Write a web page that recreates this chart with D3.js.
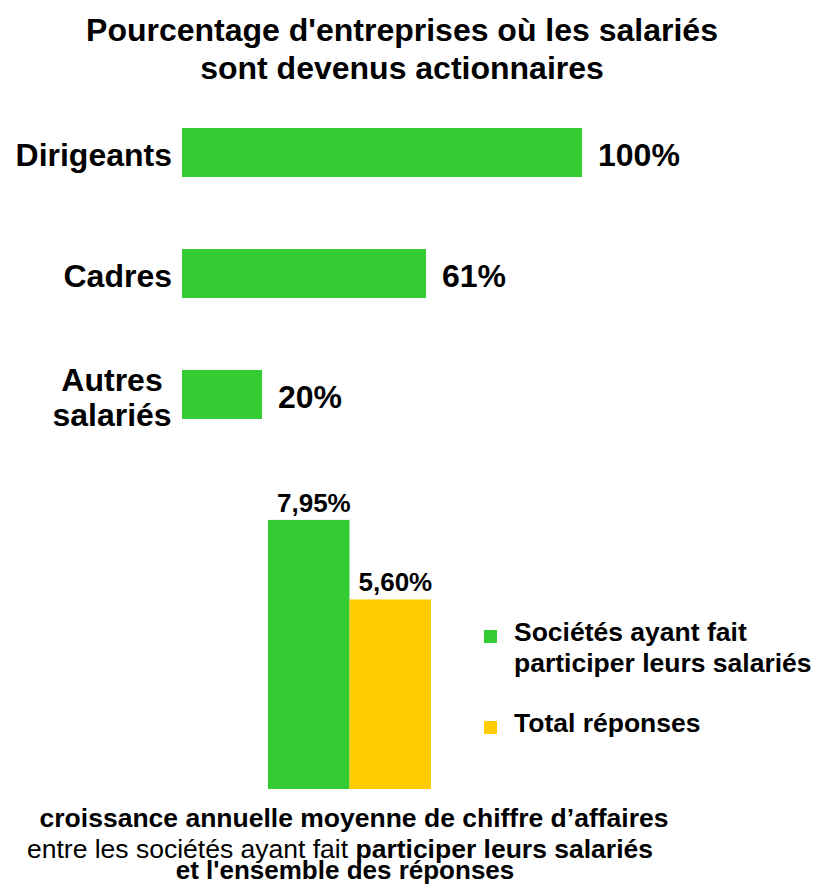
<!DOCTYPE html>
<html>
<head>
<meta charset="utf-8">
<script src="https://cdn.jsdelivr.net/npm/d3@7"></script>
<style>
  body { margin: 0; background: #fff; }
  svg { display: block; font-family: 'Liberation Sans', Arial, sans-serif; }
</style>
</head>
<body>
<div id="chart"></div>
<script>
// top chart data
const categories = ['Dirigeants', 'Cadres', 'Autres salariés']
const categoryLines = [['Dirigeants'], ['Cadres'], ['Autres', 'salariés']]
const shares = [100, 61, 20]

// bottom chart data
const series = ['Sociétés ayant fait participer leurs salariés', 'Total réponses']
const legendLines = [['Sociétés ayant fait', 'participer leurs salariés'], ['Total réponses']]
const growth = [7.95, 5.60]

const titleLines = ["Pourcentage d'entreprises où les salariés", 'sont devenus actionnaires']

const green = '#33cc33'
const yellow = '#ffcc00'

const width = 814
const height = 885

const fr = d3.formatLocale({ decimal: ',', thousands: ' ', grouping: [3], currency: ['', ' €'] })
const pct2 = fr.format('.2f')

const svg = d3.select('#chart')
  .append('svg')
  .attr('width', width)
  .attr('height', height)

// title
svg.append('g')
  .selectAll('text')
  .data(titleLines)
  .enter()
  .append('text')
  .attr('x', 402)
  .attr('y', (d, i) => 41 + i * 38)
  .attr('text-anchor', 'middle')
  .attr('font-size', 32)
  .attr('font-weight', 'bold')
  .text(d => d)

// horizontal bars
const x = d3.scaleLinear().domain([0, 100]).range([182, 582])
const y = d3.scalePoint().domain(categories).range([152.5, 394.5])
const barH = 49

const rows = categories.map((c, i) => ({ cat: c, lines: categoryLines[i], v: shares[i] }))

const topChart = svg.append('g')

topChart.selectAll('.hbar')
  .data(rows)
  .enter()
  .append('rect')
  .attr('class', 'hbar')
  .attr('x', x(0))
  .attr('y', d => y(d.cat) - barH / 2)
  .attr('width', d => x(d.v) - x(0))
  .attr('height', barH)
  .attr('fill', green)

topChart.selectAll('.hval')
  .data(rows)
  .enter()
  .append('text')
  .attr('class', 'hval')
  .attr('x', d => x(d.v) + 16)
  .attr('y', d => y(d.cat) + 13)
  .attr('font-size', 32)
  .attr('font-weight', 'bold')
  .text(d => d.v + '%')

topChart.selectAll('.hcat')
  .data(rows)
  .enter()
  .append('text')
  .attr('class', 'hcat')
  .attr('font-size', 32)
  .attr('font-weight', 'bold')
  .attr('text-anchor', d => d.lines.length > 1 ? 'middle' : 'end')
  .attr('x', d => d.lines.length > 1 ? 112 : 172)
  .attr('y', d => y(d.cat) + 13 - (d.lines.length - 1) * 17)
  .selectAll('tspan')
  .data(d => d.lines.map((l, i) => ({ l: l, i: i, n: d.lines.length })))
  .enter()
  .append('tspan')
  .attr('x', d => d.n > 1 ? 112 : 172)
  .attr('dy', d => d.i === 0 ? 0 : 35)
  .text(d => d.l)

// vertical bars
const xb = d3.scaleBand().domain(series).range([268, 431]).padding(0)
const yb = d3.scaleLinear().domain([0, 8]).range([789, 518.2])
const colors = d3.scaleOrdinal().domain(series).range([green, yellow])

const cols = series.map((s, i) => ({ s: s, v: growth[i], lines: legendLines[i] }))

const bottomChart = svg.append('g')

bottomChart.selectAll('.vbar')
  .data(cols)
  .enter()
  .append('rect')
  .attr('class', 'vbar')
  .attr('x', d => xb(d.s))
  .attr('y', d => yb(d.v))
  .attr('width', xb.bandwidth())
  .attr('height', d => yb(0) - yb(d.v))
  .attr('fill', d => colors(d.s))

bottomChart.selectAll('.vval')
  .data(cols)
  .enter()
  .append('text')
  .attr('class', 'vval')
  .attr('x', d => xb(d.s) + 9)
  .attr('y', d => yb(d.v) - 8)
  .attr('font-size', 26)
  .attr('font-weight', 'bold')
  .text(d => pct2(d.v) + '%')

// legend
const legendY = [630, 721]
const legend = bottomChart.selectAll('.legend')
  .data(cols)
  .enter()
  .append('g')
  .attr('class', 'legend')
  .attr('transform', (d, i) => 'translate(484,' + legendY[i] + ')')

legend.append('rect')
  .attr('width', 13)
  .attr('height', 13)
  .attr('fill', d => colors(d.s))

legend.append('text')
  .attr('x', 30)
  .attr('y', 11)
  .attr('font-size', 26.5)
  .attr('font-weight', 'bold')
  .selectAll('tspan')
  .data(d => d.lines)
  .enter()
  .append('tspan')
  .attr('x', 30)
  .attr('dy', (d, i) => i === 0 ? 0 : 31)
  .text(d => d)

// caption under the bars
const caption = svg.append('g').attr('font-size', 26.5)

caption.append('text')
  .attr('x', 354)
  .attr('y', 827)
  .attr('text-anchor', 'middle')
  .attr('font-weight', 'bold')
  .text('croissance annuelle moyenne de chiffre d’affaires')

const line2 = caption.append('text')
  .attr('x', 340)
  .attr('y', 858)
  .attr('text-anchor', 'middle')
line2.append('tspan').text('entre les sociétés ayant fait ')
line2.append('tspan').attr('font-weight', 'bold').text('participer leurs salariés')

caption.append('text')
  .attr('x', 345)
  .attr('y', 879)
  .attr('text-anchor', 'middle')
  .attr('font-size', 26)
  .attr('font-weight', 'bold')
  .text("et l'ensemble des réponses")
</script>
</body>
</html>
